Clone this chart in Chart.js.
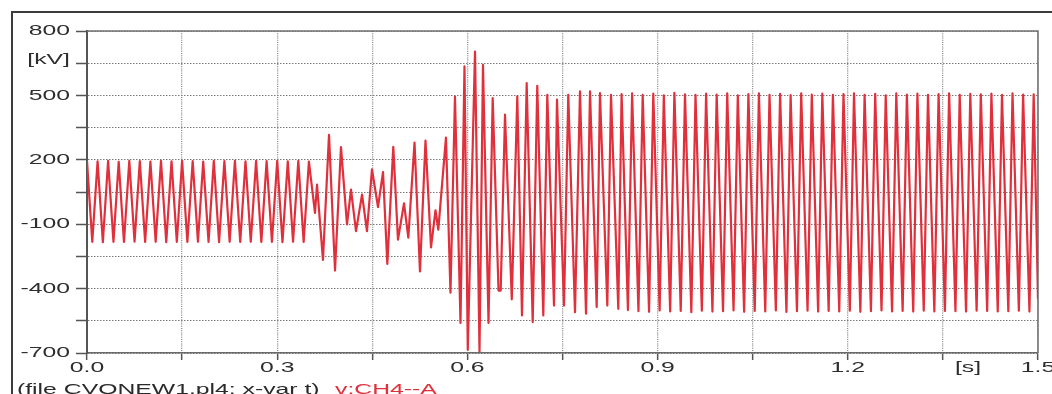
<!DOCTYPE html>
<html>
<head>
<meta charset="utf-8">
<script src="https://cdn.jsdelivr.net/npm/chart.js@4.4.0/dist/chart.umd.min.js"></script>
<style>
  html, body { margin:0; padding:0; background:#fff; overflow:hidden; }
  body { width:1052px; height:394px; position:relative; font-family:"Liberation Sans", Arial, sans-serif; }
  #frame { position:absolute; left:11px; top:11px; width:1100px; height:500px; border:2px solid #3c3c3c; box-sizing:border-box; }
  #chart { position:absolute; left:0; top:0; }
  .cap { position:absolute; top:381px; font-size:15px; line-height:15px; transform:scaleX(1.65); transform-origin:0 0; white-space:pre; }
</style>
</head>
<body>
<div id="frame"></div>
<canvas id="chart" width="1052" height="394"></canvas>
<div class="cap" style="left:17px;color:#2a2a2a">(file CVONEW1.pl4; x-var t)</div>
<div class="cap" style="left:335px;color:#e0303c">v:CH4--A</div>

<script>
// axis ticks (x in seconds, y in kV)
const xTicks = [0, 0.15, 0.3, 0.45, 0.6, 0.75, 0.9, 1.05, 1.2, 1.35, 1.5];
const xTickLabels = ['0.0', '', '0.3', '', '0.6', '', '0.9', '', '1.2', '[s]', '1.5'];
const yTicks = [-700, -550, -400, -250, -100, 50, 200, 350, 500, 650, 800];
const yTickLabels = ['-700', '', '-400', '', '-100', '', '200', '', '500', '[kV]', '800'];

// v:CH4--A, turning points (time in ms, voltage in kV)
// before the event: ~60 Hz, about +195 / -183
const preTimeMs = [0, 8.3, 16.7, 25, 33.3, 41.7, 50, 58.3, 66.7, 75, 83.3, 91.7, 100, 108.3,
  116.7, 125, 133.3, 141.7, 150, 158.3, 166.7, 175, 183.3, 191.7, 200, 208.3, 216.7, 225,
  233.3, 241.7, 250, 258.3, 266.7, 275, 283.3, 291.7, 300, 308.3, 316.7, 325, 333.3, 341.7, 350];
const preKV = [195, -182, 193, -184, 195, -182, 190, -183, 195, -181, 194, -183, 192, -182,
  195, -184, 193, -182, 195, -183, 194, -182, 192, -183, 195, -184, 194, -182, 195, -183,
  193, -182, 195, -183, 194, -182, 195, -184, 193, -182, 195, -183, 192];

// transient
const transTimeMs = [359.6, 362.8, 372.2, 381.7, 391.2, 400.6, 410.1, 416.4, 424.3, 433.8,
  441.6, 449.5, 459.0, 466.9, 473.7, 483.1, 490.5, 500.0, 506.8, 516.6, 525.2, 533.9, 542.6,
  549.7, 554.1, 566.2, 573.3, 580.4, 589.1, 595.4, 600.6, 612.0, 619.1, 624.6, 633.3, 639.9,
  649.1, 652.5, 659.3, 670.0, 678.7, 686.1, 693.5, 703.0, 710.2, 719.7, 726.0, 736.6, 741.3,
  752.4, 759.1, 769.7, 777.6, 787.1, 793.4, 803.9, 809.1, 820.7, 826.5, 838.0];
const transKV = [-47, 84, -266, 316, -316, 259, -101, 61, -132, 38,
  -132, 155, -20, 143, -285, 260, -172, -3, -163, 280, -320, 290, -208,
  -35, -125, 303, -419, 494, -560, 635, -685, 704, -693, 642, -560, 488,
  -409, -409, 410, -450, 495, -525, 557, -556, 545, -525, 503, -479, 480,
  -479, 503, -510, 519, -517, 519, -486, 511, -479, 503, -494];

// after the event: ~60 Hz, about +/-505
const postTimeMs = [843.2, 853.2, 859.8, 869.8, 876.5, 886.5, 893.2, 903.2, 909.8, 919.8,
  926.5, 936.5, 943.2, 953.2, 959.8, 969.8, 976.5, 986.5, 993.2, 1003.2, 1009.8, 1019.8,
  1026.5, 1036.5, 1043.2, 1053.2, 1059.8, 1069.8, 1076.5, 1086.5, 1093.2, 1103.2, 1109.8,
  1119.8, 1126.5, 1136.5, 1143.2, 1153.2, 1159.8, 1169.8, 1176.5, 1186.5, 1193.2, 1203.2,
  1209.8, 1219.8, 1226.5, 1236.5, 1243.2, 1253.2, 1259.8, 1269.8, 1276.5, 1286.5, 1293.2,
  1303.2, 1309.8, 1319.8, 1326.5, 1336.5, 1343.2, 1353.2, 1359.8, 1369.8, 1376.5, 1386.5,
  1393.2, 1403.2, 1409.8, 1419.8, 1426.5, 1436.5, 1443.2, 1453.2, 1459.8, 1469.8, 1476.5,
  1486.5, 1493.2, 1500];
const postKV = [506, -500, 510, -505, 503, -508, 508, -502, 500, -506,
  512, -504, 505, -510, 502, -503, 508, -507, 504, -505, 510, -502,
  500, -508, 506, -504, 509, -506, 503, -502, 507, -509, 501,
  -505, 510, -503, 504, -507, 508, -504, 502, -506, 506, -503,
  510, -508, 503, -505, 507, -502, 500, -506, 509, -504, 504,
  -507, 508, -503, 502, -506, 506, -504, 510, -505, 503, -507,
  507, -503, 505, -504, 508, -506, 502, -505, 509, -503, 504,
  -507, 505, -450];

const TEXT_STRETCH = 1.65;   // picture text is wide
const traceColor = '#e0303c';

function toPoints(times, vals) {
  const n = Math.min(times.length, vals.length);
  const out = [];
  for (let i = 0; i < n; i++) out.push({ x: times[i] / 1000, y: vals[i] });
  return out;
}
const tracePoints = [].concat(
  toPoints(preTimeMs, preKV),
  toPoints(transTimeMs, transKV),
  toPoints(postTimeMs, postKV)
);

function drawStretched(ctx, text, x, y, align) {
  if (!text) return;
  ctx.save();
  ctx.translate(x, y);
  ctx.scale(TEXT_STRETCH, 1);
  ctx.textAlign = align;
  ctx.fillText(text, 0, 0);
  ctx.restore();
}

// top/right frame and the stretched tick labels
const frameAndLabels = {
  id: 'frameAndLabels',
  beforeDatasetsDraw(chart) {
    const { ctx, chartArea: a, scales } = chart;
    ctx.save();
    ctx.strokeStyle = '#707070';
    ctx.lineWidth = 1.5;
    ctx.beginPath();
    ctx.moveTo(a.left, a.top);
    ctx.lineTo(a.right, a.top);
    ctx.lineTo(a.right, a.bottom);
    ctx.stroke();

    ctx.fillStyle = '#2e2e2e';
    ctx.font = '15px "Liberation Sans", Arial, sans-serif';
    ctx.textBaseline = 'middle';
    yTicks.forEach((v, i) => {
      const y = scales.y.getPixelForValue(v);
      const lab = yTickLabels[i];
      drawStretched(ctx, lab, 70, lab === '[kV]' ? y - 3 : y, 'right');
    });
    xTicks.forEach((v, i) => {
      const x = scales.x.getPixelForValue(v);
      const lab = xTickLabels[i];
      if (lab === '[s]') drawStretched(ctx, lab, x + 12, 368, 'left');
      else drawStretched(ctx, lab, x, 368, 'center');
    });
    ctx.restore();
  }
};

new Chart(document.getElementById('chart').getContext('2d'), {
  type: 'line',
  data: {
    datasets: [{
      label: 'v:CH4--A',
      data: tracePoints,
      borderColor: traceColor,
      borderWidth: 2.2,
      borderJoinStyle: 'round',
      pointRadius: 0,
      tension: 0,
      fill: false
    }]
  },
  options: {
    responsive: false,
    devicePixelRatio: 1,
    animation: false,
    events: [],
    layout: { padding: { top: 31, right: 14, left: 0, bottom: 0 } },
    plugins: { legend: { display: false }, tooltip: { enabled: false } },
    scales: {
      x: {
        type: 'linear',
        min: 0, max: 1.5,
        afterBuildTicks: s => { s.ticks = xTicks.map(v => ({ value: v })); },
        afterFit: s => { s.height = 41; },
        ticks: { display: false },
        grid: { color: '#8a8a8a', lineWidth: 1.3, tickLength: 7, tickColor: '#555', tickWidth: 1.5 },
        border: { display: true, color: '#6a6a6a', width: 1.5, dash: [1, 1.2] }
      },
      y: {
        type: 'linear',
        min: -700, max: 800,
        afterBuildTicks: s => { s.ticks = yTicks.map(v => ({ value: v })); },
        afterFit: s => { s.width = 87; },
        ticks: { display: false },
        grid: { color: '#7a7a7a', lineWidth: 1, tickLength: 11, tickColor: '#555', tickWidth: 1.5 },
        border: { display: true, color: '#555', width: 2, dash: [1.5, 1.5] }
      }
    }
  },
  plugins: [frameAndLabels]
});
</script>
</body>
</html>
